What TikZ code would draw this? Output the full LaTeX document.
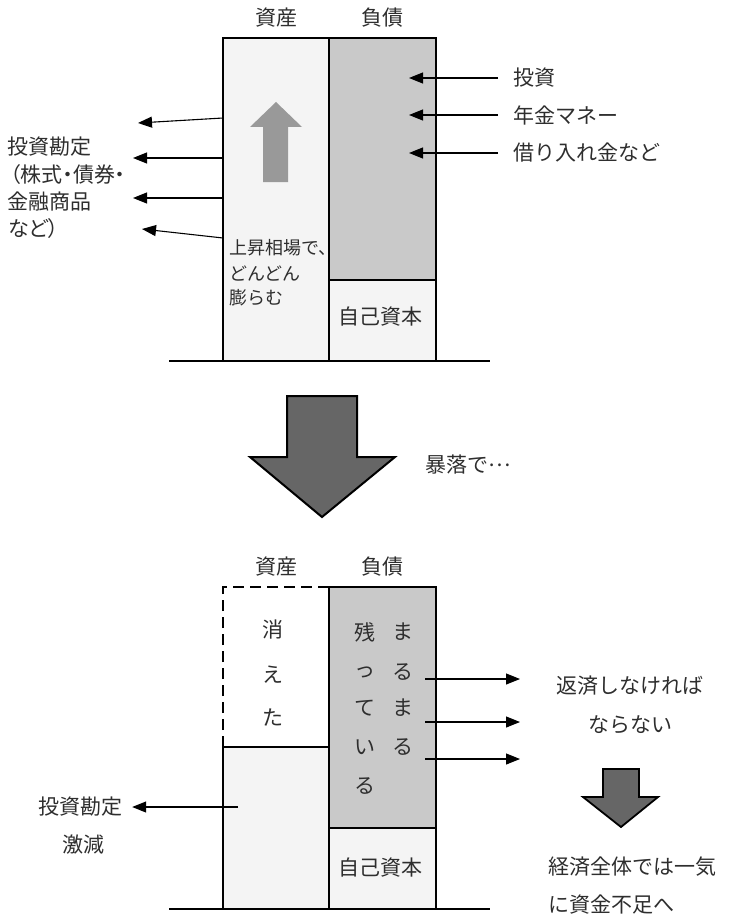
\documentclass[tikz,border=0pt]{standalone}
\usepackage{fontspec}
\setmainfont{Noto Sans CJK JP}
\usetikzlibrary{arrows.meta}

\definecolor{debtgray}{HTML}{C9C9C9}
\definecolor{assetgray}{HTML}{F4F4F4}
\definecolor{inkgray}{HTML}{2E2E2E}

\tikzset{
  box/.style={draw=black, line width=1.8pt},
  lbl/.style={inner sep=0pt, text=inkgray, font=\fontsize{21}{24}\selectfont},
  small/.style={inner sep=0pt, text=inkgray, font=\fontsize{18}{21}\selectfont},
  narrow/.style={lbl, font=\fontsize{21}{24}\selectfont\addfontfeature{RawFeature=+palt}},
  arr/.style={-{Triangle[length=14pt,width=11pt]}, line width=1.1pt},
  bigarrow/.style={fill=black!60, draw=black, line width=2pt, line join=miter},
}

\begin{document}
\begin{tikzpicture}[x=1pt,y=-1pt]
\useasboundingbox (0,0) rectangle (728,923);

% before the crash
\fill[assetgray] (223,38) rectangle (329,360);
\fill[debtgray] (329,38) rectangle (436,280);
\fill[assetgray] (329,280) rectangle (436,360);
\draw[box] (223,360) -- (223,38) -- (436,38) -- (436,360);
\draw[box] (329,38) -- (329,360) (329,280) -- (436,280);
\draw[box] (169,361) -- (490,361);
\fill[black!40] (263,182) -- (263,127) -- (250,127) -- (276,102)
  -- (302,127) -- (288,127) -- (288,182) -- cycle;

\node[lbl] (shisan1) at (276,18) {資産};
\node[lbl] (fusai1) at (382,18) {負債};
\node[lbl] (jiko1) at (380,317) {自己資本};
\node[small, anchor=west] (rise1) at (229,248) {上昇相場で、};
\node[small, anchor=west] (rise2) at (229,274) {どんどん};
\node[small, anchor=west] (rise3) at (229,298) {膨らむ};

\node[lbl, anchor=west] (kanjo1) at (7,147) {投資勘定};
\node[narrow, anchor=west] (kanjo2) at (10,175) {（株式・債券・};
\node[lbl, anchor=west] (kanjo3) at (7,202) {金融商品};
\node[narrow, anchor=west] (kanjo4) at (8,229) {など）};

\coordinate (out1) at (223,118);  \coordinate (tip1) at (138,123);
\coordinate (out2) at (223,158);  \coordinate (tip2) at (133,158);
\coordinate (out3) at (223,198);  \coordinate (tip3) at (133,198);
\coordinate (out4) at (223,238);  \coordinate (tip4) at (142,229);
\foreach \i in {1,...,4}
  \draw[arr] (out\i) -- (tip\i);

\node[lbl, anchor=west] (toushi) at (513,78) {投資};
\node[lbl, anchor=west] (nenkin) at (513,115) {年金マネー};
\node[lbl, anchor=west] (kariire) at (513,153) {借り入れ金など};
\foreach \n in {toushi,nenkin,kariire}
  \draw[arr] ([xshift=-15pt]\n.west) -- ([xshift=-104pt]\n.west);

% crash
\draw[bigarrow] (287,396) -- (357,396) -- (357,457) -- (395,457) -- (322,517)
  -- (250,457) -- (287,457) -- cycle;
\node[lbl, anchor=west] (boraku) at (425,465) {暴落で\raisebox{0.33em}{…}};

% after the crash
\fill[assetgray] (223,747) rectangle (329,908);
\fill[debtgray] (329,587) rectangle (436,828);
\fill[assetgray] (329,828) rectangle (436,908);
\draw[box, dash pattern=on 11pt off 6pt] (223,747) -- (223,587) -- (329,587);
\draw[box] (223,908) -- (223,747) -- (329,747);
\draw[box] (329,908) -- (329,587) -- (436,587) -- (436,908) (329,828) -- (436,828);
\draw[box] (169,909) -- (490,909);

\node[lbl] (shisan2) at (276,567) {資産};
\node[lbl] (fusai2) at (382,567) {負債};
\node[lbl] (jiko2) at (380,868) {自己資本};

\foreach \c/\y [count=\k] in {消/630,え/675,た/718}
  \node[lbl] (kieta\k) at (273,\y) {\c};
\foreach \c/\y [count=\k] in {残/632,っ/672,て/708,い/747,る/786}
  \node[lbl] (nokori\k) at (365,\y) {\c};
\foreach \c/\y [count=\k] in {ま/632,る/672,ま/708,る/747}
  \node[lbl] (marumaru\k) at (403,\y) {\c};

\node[lbl] (gekigen1) at (80,807) {投資勘定};
\node[lbl] (gekigen2) at (83,845) {激減};
\coordinate (down) at (238,807);
\draw[arr] (down) -- ([xshift=10pt]gekigen1.east);

\node[lbl] (hensai1) at (630,686) {返済しなければ};
\node[lbl] (hensai2) at (630,725) {ならない};
\coordinate (pay1) at (425,679);  \coordinate (end1) at (520,679);
\coordinate (pay2) at (425,722);  \coordinate (end2) at (520,722);
\coordinate (pay3) at (425,759);  \coordinate (end3) at (520,759);
\foreach \i in {1,2,3}
  \draw[arr] (pay\i) -- (end\i);

\draw[bigarrow, line width=1.8pt] (603,769) -- (639,769) -- (639,797) -- (658,797)
  -- (621,827) -- (583,797) -- (603,797) -- cycle;
\node[lbl, anchor=west] (keizai1) at (548,867) {経済全体では一気};
\node[lbl, anchor=west] (keizai2) at (548,905) {に資金不足へ};
\end{tikzpicture}
\end{document}
